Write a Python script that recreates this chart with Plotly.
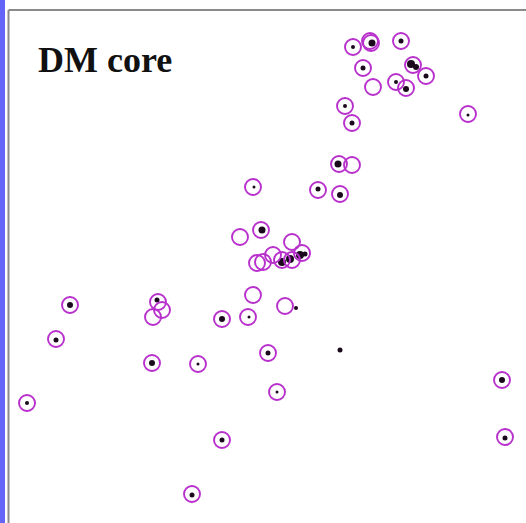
import plotly.graph_objects as go

# Halo positions (projected, in plot units) and their dark-matter core particles
halo_x = [353, 371, 370, 401, 363, 413, 426, 373, 396, 406, 345, 352, 468,
          339, 352, 318, 340, 253, 240, 261, 292, 257, 263, 273, 282, 292,
          302, 253, 285, 70, 158, 162, 153, 56, 222, 248, 268, 152, 198, 277,
          27, 502, 505, 222, 192]
halo_y = [47, 43, 41, 41, 68, 65, 76, 87, 82, 88, 106, 123, 114,
          164, 165, 190, 194, 187, 237, 230, 242, 263, 262, 255, 260, 260,
          253, 295, 306, 305, 302, 310, 317, 339, 319, 317, 353, 363, 364, 392,
          403, 380, 437, 440, 494]

core_x = [353, 372, 401, 363, 411, 416, 426, 396, 406, 345, 352, 468, 338,
          318, 340, 254, 262, 282, 290, 300, 305, 296, 340, 70, 157, 56, 222,
          249, 268, 152, 198, 277, 27, 502, 505, 222, 192]
core_y = [47, 43, 41, 68, 64, 67, 76, 82, 89, 106, 123, 115, 164,
          189, 195, 187, 230, 262, 259, 255, 254, 308, 350, 305, 300, 340, 319,
          317, 353, 363, 364, 392, 403, 380, 438, 440, 495]
core_size = [4, 7, 5, 5, 8, 6, 5, 4, 6, 4, 5, 3, 7,
             5, 6, 3, 7, 8, 8, 8, 5, 4, 5, 6, 5, 5, 6,
             3, 5, 6, 3, 3, 4, 6, 5, 5, 5]

fig = go.Figure()
fig.add_trace(go.Scatter(
    x=core_x, y=core_y, mode="markers",
    marker=dict(color="#1a0a1c", size=core_size, opacity=1, line=dict(width=0)),
    hoverinfo="skip", showlegend=False))
fig.add_trace(go.Scatter(
    x=halo_x, y=halo_y, mode="markers",
    marker=dict(symbol="circle-open", color="#b830cc", size=16, opacity=1,
                line=dict(width=1.9, color="#b830cc")),
    hoverinfo="skip", showlegend=False))

fig.add_annotation(
    text="<b>DM core</b>", x=36, y=60, xref="x", yref="y",
    xanchor="left", yanchor="middle", showarrow=False,
    font=dict(family="Liberation Serif", size=36, color="#111111"))

# Frame: blue strip on the far left, grey top and left borders
fig.add_shape(type="rect", xref="paper", yref="paper", x0=0, x1=5 / 526,
              y0=0, y1=1, fillcolor="#6464f8", line=dict(width=0), layer="below")
fig.add_shape(type="line", xref="x", yref="y", x0=8.5, x1=526, y0=10, y1=10,
              line=dict(color="#8a8a8a", width=2), layer="below")
fig.add_shape(type="line", xref="x", yref="y", x0=8.5, x1=8.5, y0=10, y1=523,
              line=dict(color="#8a8a8a", width=2), layer="below")

fig.update_layout(
    width=526, height=523, margin=dict(l=0, r=0, t=0, b=0),
    paper_bgcolor="white", plot_bgcolor="white",
    xaxis=dict(range=[0, 526], visible=False, fixedrange=True),
    yaxis=dict(range=[523, 0], visible=False, fixedrange=True),
)
fig.write_html("out.html")
